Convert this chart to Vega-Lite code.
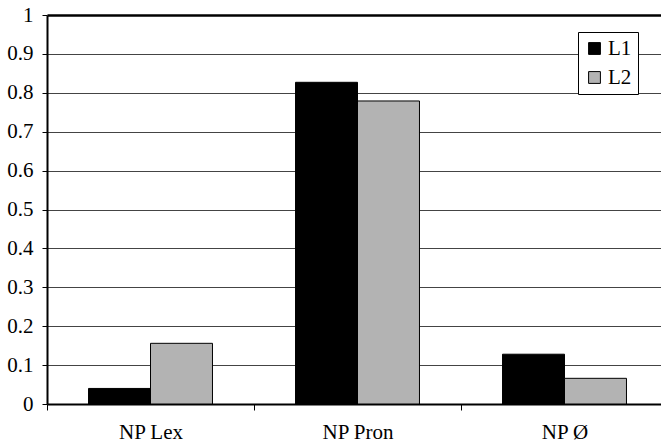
{
  "$schema": "https://vega.github.io/schema/vega-lite/v6.json",
  "width": 614,
  "height": 389,
  "autosize": {"type": "none"},
  "padding": {"left": 47, "top": 15, "right": 0, "bottom": 39},
  "background": "white",
  "config": {
    "view": {"stroke": null},
    "font": "Times New Roman, Liberation Serif, DejaVu Serif, serif"
  },
  "data": {
    "values": [
      {"category": "NP Lex", "series": "L1", "value": 0.04},
      {"category": "NP Lex", "series": "L2", "value": 0.156},
      {"category": "NP Pron", "series": "L1", "value": 0.827},
      {"category": "NP Pron", "series": "L2", "value": 0.779},
      {"category": "NP Ø", "series": "L1", "value": 0.128},
      {"category": "NP Ø", "series": "L2", "value": 0.066}
    ]
  },
  "mark": {"type": "bar", "stroke": "black", "strokeWidth": 1},
  "encoding": {
    "x": {
      "field": "category",
      "type": "nominal",
      "sort": ["NP Lex", "NP Pron", "NP Ø"],
      "scale": {"range": [0, 621], "paddingInner": 0, "paddingOuter": 0},
      "axis": {
        "title": null,
        "labelAngle": 0,
        "labelFont": "Times New Roman, Liberation Serif, DejaVu Serif, serif",
        "labelFontSize": 21,
        "labelColor": "black",
        "labelPadding": 11,
        "tickBand": "extent",
        "tickSize": 6,
        "tickColor": "black",
        "tickWidth": 1,
        "domainColor": "black",
        "domainWidth": 2,
        "grid": false
      }
    },
    "xOffset": {
      "field": "series",
      "type": "nominal",
      "scale": {"paddingInner": 0, "paddingOuter": 0.67}
    },
    "y": {
      "field": "value",
      "type": "quantitative",
      "scale": {"domain": [0, 1], "nice": false, "zero": true},
      "axis": {
        "title": null,
        "values": [0, 0.1, 0.2, 0.3, 0.4, 0.5, 0.6, 0.7, 0.8, 0.9, 1],
        "format": "~g",
        "labelFont": "Times New Roman, Liberation Serif, DejaVu Serif, serif",
        "labelFontSize": 21,
        "labelColor": "black",
        "labelPadding": 9,
        "tickSize": 5,
        "tickColor": "black",
        "tickWidth": 1,
        "domainColor": "black",
        "domainWidth": 2,
        "grid": true,
        "gridOpacity": 1,
        "gridWidth": {"condition": {"test": "datum.value === 1", "value": 2.5}, "value": 1},
        "gridColor": {"condition": {"test": "datum.value === 1", "value": "#000000"}, "value": "#444444"}
      }
    },
    "color": {
      "field": "series",
      "type": "nominal",
      "scale": {"domain": ["L1", "L2"], "range": ["#000000", "#b3b3b3"]},
      "legend": {
        "title": null,
        "orient": "none",
        "legendX": 531,
        "legendY": 17,
        "padding": 6,
        "rowPadding": 7,
        "strokeColor": "black",
        "fillColor": "white",
        "symbolType": "square",
        "symbolSize": 140,
        "symbolStrokeColor": "black",
        "symbolStrokeWidth": 1,
        "symbolOpacity": 1,
        "labelFont": "Times New Roman, Liberation Serif, DejaVu Serif, serif",
        "labelFontSize": 21,
        "labelColor": "black",
        "labelOffset": 3
      }
    }
  }
}
